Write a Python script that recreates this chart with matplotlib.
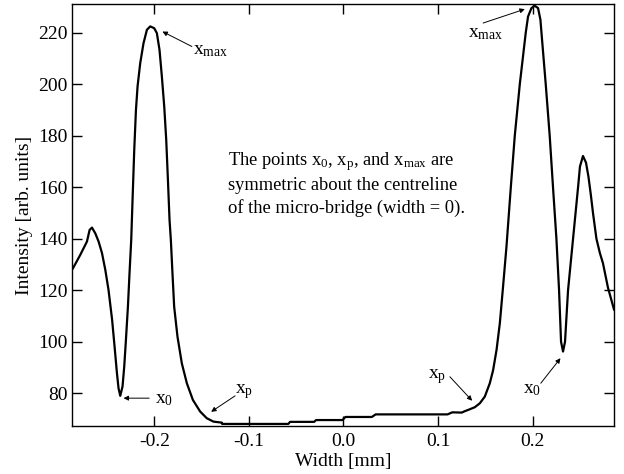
import matplotlib
matplotlib.use("Agg")
import matplotlib.pyplot as plt

plt.rcParams['font.family'] = ['Liberation Serif', 'DejaVu Serif']
plt.rcParams['mathtext.fontset'] = 'custom'
plt.rcParams['mathtext.rm'] = 'Liberation Serif'
plt.rcParams['axes.unicode_minus'] = False

# intensity profile across the micro-bridge
width = [
    -0.2860, -0.2783, -0.2712, -0.2684, -0.2659, -0.2624, -0.2589, -0.2553,
    -0.2518, -0.2484, -0.2446, -0.2420, -0.2395, -0.2378, -0.2360, -0.2336,
    -0.2318, -0.2300, -0.2279, -0.2262, -0.2244, -0.2230, -0.2212, -0.2194,
    -0.2177, -0.2149, -0.2114, -0.2078, -0.2043, -0.2001, -0.1973, -0.1945,
    -0.1920, -0.1895, -0.1874, -0.1856, -0.1839, -0.1825, -0.1808, -0.1790,
    -0.1755, -0.1709, -0.1656, -0.1592, -0.1515, -0.1445, -0.1375, -0.1286,
    -0.1283, -0.0583, -0.0565, -0.0310, -0.0290, -0.0010, 0.0020, 0.0300,
    0.0340, 0.1100, 0.1150, 0.1250, 0.1280, 0.1336, 0.1389, 0.1441,
    0.1494, 0.1547, 0.1582, 0.1618, 0.1653, 0.1687, 0.1723, 0.1769,
    0.1811, 0.1864, 0.1927, 0.1951, 0.1987, 0.2022, 0.2057, 0.2082,
    0.2093, 0.2138, 0.2180, 0.2215, 0.2251, 0.2279, 0.2300, 0.2321,
    0.2342, 0.2374, 0.2427, 0.2480, 0.2500, 0.2532, 0.2564, 0.2590,
    0.2615, 0.2638, 0.2674, 0.2710, 0.2743, 0.2796, 0.2860,
]
intensity = [
    128.5, 133.7, 138.9, 143.4, 144.3, 142.1, 138.9, 134.4,
    127.9, 120.1, 108.5, 98.1, 87.8, 81.9, 79.0, 82.6,
    90.3, 100.7, 113.6, 126.6, 139.5, 155.1, 174.5, 190.0,
    199.1, 208.1, 215.9, 221.1, 222.4, 221.7, 219.8, 213.3,
    202.9, 191.3, 178.4, 162.8, 147.3, 139.5, 126.6, 113.6,
    102.0, 91.6, 83.9, 77.4, 72.9, 70.3, 69.0, 68.6,
    68.1, 68.1, 68.9, 68.9, 69.6, 69.6, 70.8, 70.8,
    71.8, 71.8, 72.6, 72.5, 73.0, 73.8, 74.6, 76.1,
    78.7, 83.9, 89.0, 96.8, 107.2, 121.4, 136.9, 160.0,
    180.0, 200.0, 220.0, 226.2, 229.5, 230.4, 229.5, 225.0,
    220.0, 200.0, 180.0, 160.0, 140.0, 120.0, 100.0, 96.2,
    100.0, 120.0, 140.0, 160.0, 168.0, 172.1, 169.5, 164.0,
    157.0, 149.9, 140.0, 134.5, 130.5, 121.0, 112.5,
]

# labels: (text, text x, text baseline y, arrow tail x, arrow tail y, arrow head x, arrow head y)
marks = [
    (r'$\mathregular{x_{max}}$', -0.1589, 211.4, -0.1603, 214.6, -0.1914, 220.4),
    (r'$\mathregular{x_0}$', -0.1990, 76.1, -0.2054, 78.1, -0.2325, 78.1),
    (r'$\mathregular{x_p}$', -0.1146, 80.0, -0.1146, 79.0, -0.1399, 72.8),
    (r'$\mathregular{x_p}$', 0.0892, 85.9, 0.1125, 86.4, 0.1360, 77.1),
    (r'$\mathregular{x_0}$', 0.1896, 80.1, 0.2086, 83.9, 0.2294, 93.6),
    (r'$\mathregular{x_{max}}$', 0.1318, 218.0, 0.1476, 223.7, 0.1917, 229.1),
]

note = [
    r'The points $\mathregular{x_0}$, $\mathregular{x_p}$, and $\mathregular{x_{max}}$ are',
    'symmetric about the centreline',
    'of the micro-bridge (width = 0).',
]
note_y = [168.6, 158.9, 150.0]

fig = plt.figure(figsize=(6.24, 4.74), dpi=100)
ax = fig.add_axes([0.1154, 0.1013, 0.8686, 0.8903])

ax.plot(width, intensity, color='black', lw=1.6)

for txt, tx, ty, ax0, ay0, hx, hy in marks:
    ax.text(tx, ty, txt, fontsize=14, ha='left', va='baseline')
    ax.annotate('', xy=(hx, hy), xytext=(ax0, ay0),
                arrowprops=dict(arrowstyle='-|>', color='black', lw=0.7,
                                mutation_scale=7, shrinkA=0, shrinkB=0))

for line, y in zip(note, note_y):
    ax.text(-0.122, y, line, fontsize=13.3, ha='left', va='baseline')

ax.set_xlim(-0.287, 0.286)
ax.set_ylim(67.3, 231.1)
ax.set_xticks([-0.2, -0.1, 0.0, 0.1, 0.2])
ax.set_xticklabels(['-0.2', '-0.1', '0.0', '0.1', '0.2'])
ax.set_yticks([80, 100, 120, 140, 160, 180, 200, 220])
ax.tick_params(direction='in', length=7, width=1, top=True, right=True,
               labelsize=14)
ax.tick_params(axis='x', pad=5)
ax.tick_params(axis='y', pad=3)
for s in ax.spines.values():
    s.set_linewidth(1)

ax.set_xlabel('Width [mm]', fontsize=14, labelpad=2)
ax.set_ylabel('Intensity [arb. units]', fontsize=14, labelpad=4)

fig.savefig('out.png', dpi=100)
